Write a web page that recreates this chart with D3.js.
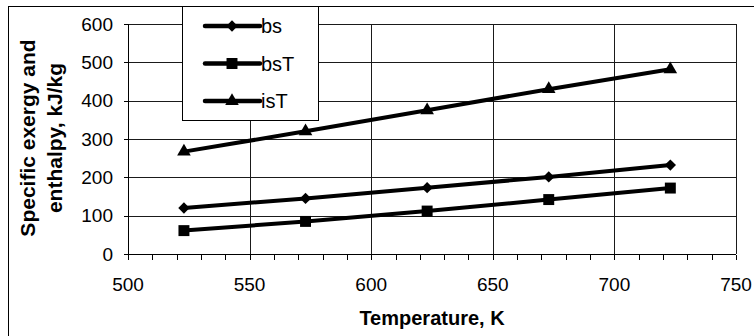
<!DOCTYPE html>
<html>
<head>
<meta charset="utf-8">
<script src="https://cdn.jsdelivr.net/npm/d3@7/dist/d3.min.js"></script>
<style>
html,body{margin:0;padding:0;background:#fff;}
svg{display:block;font-family:"Liberation Sans",Arial,sans-serif;}
</style>
</head>
<body>
<svg id="chart" width="754" height="336"></svg>
<script>
const temperatures = [523, 573, 623, 673, 723];
const bs  = [120, 145, 173, 201, 232];
const bsT = [61, 85, 112, 142, 172];
const isT = [267, 320, 375, 430, 482];
const seriesNames = ["bs", "bsT", "isT"];
const xTicks = [500, 550, 600, 650, 700, 750];
const yTicks = [0, 100, 200, 300, 400, 500, 600];
const xTitle = "Temperature, K";
const yTitleLines = ["Specific exergy and", "enthalpy, kJ/kg"];

const svg = d3.select("#chart");
const L = 128, R = 736, T = 24, B = 254;
const x = d3.scaleLinear().domain([500, 750]).range([L, R]);
const y = d3.scaleLinear().domain([0, 600]).range([B, T]);

// outer chart border (right/bottom cropped)
svg.append("rect").attr("x", 8.5).attr("y", 6.5).attr("width", 800).attr("height", 400)
  .attr("fill", "#fff").attr("stroke", "#000").attr("stroke-width", 1);

// gridlines
const g = svg.append("g").attr("stroke", "#1a1a1a").attr("stroke-width", 1).attr("shape-rendering", "crispEdges");
yTicks.filter(v => v > 0).forEach(v => {
  g.append("line").attr("x1", L).attr("x2", R).attr("y1", Math.round(y(v)) + 0.5).attr("y2", Math.round(y(v)) + 0.5);
});
xTicks.filter(v => v > 500).forEach(v => {
  g.append("line").attr("y1", T).attr("y2", B).attr("x1", Math.round(x(v)) + 0.5).attr("x2", Math.round(x(v)) + 0.5);
});

// axes
const xAxis = d3.axisBottom(x).tickValues(d3.range(500, 751, 10)).tickSize(5).tickFormat("");
const gx = svg.append("g").attr("transform", `translate(0,${B + 0.5})`).call(xAxis);
gx.selectAll("path,line").attr("stroke", "#000").attr("shape-rendering", "crispEdges");
gx.select(".domain").attr("d", `M${L},0H${R}`);
const yAxis = d3.axisLeft(y).tickValues(yTicks).tickSize(5).tickFormat("");
const gy = svg.append("g").attr("transform", `translate(${L + 0.5},0)`).call(yAxis);
gy.selectAll("path,line").attr("stroke", "#000").attr("shape-rendering", "crispEdges");
gy.select(".domain").attr("d", `M0,${T}V${B}`);

// tick labels
svg.append("g").selectAll("text").data(xTicks).join("text")
  .attr("x", d => x(d)).attr("y", 291).attr("text-anchor", "middle")
  .attr("font-size", 19).text(d => d);
svg.append("g").selectAll("text").data(yTicks).join("text")
  .attr("x", 113).attr("y", d => y(d) + 6.8).attr("text-anchor", "end")
  .attr("font-size", 19).text(d => d);

// titles
svg.append("text").attr("x", (L + R) / 2).attr("y", 325).attr("text-anchor", "middle")
  .attr("font-size", 20).attr("font-weight", "bold").text(xTitle);
const yt = svg.append("text").attr("transform", `translate(0,138) rotate(-90)`)
  .attr("text-anchor", "middle").attr("font-size", 21).attr("font-weight", "bold");
yt.append("tspan").attr("x", 0).attr("y", 35).text(yTitleLines[0]);
yt.append("tspan").attr("x", 0).attr("y", 62).text(yTitleLines[1]);

// series
const data = [bs, bsT, isT];
const shapes = [d3.symbolSquare, d3.symbolSquare, d3.symbolTriangle];
const sizes = [64, 120, 80];
const rot = [" rotate(45)", "", ""];
const line = d3.line().x((d, i) => x(temperatures[i])).y(d => y(d));
data.forEach((vals, k) => {
  svg.append("path").datum(vals).attr("d", line).attr("fill", "none")
    .attr("stroke", "#000").attr("stroke-width", 4);
  svg.append("g").selectAll("path").data(vals).join("path")
    .attr("transform", (d, i) => `translate(${x(temperatures[i])},${y(d)})${rot[k]}`)
    .attr("d", d3.symbol().type(shapes[k]).size(sizes[k])).attr("fill", "#000");
});

// legend
const lg = svg.append("g");
lg.append("rect").attr("x", 182.5).attr("y", 6.5).attr("width", 136).attr("height", 114)
  .attr("fill", "#fff").attr("stroke", "#000").attr("stroke-width", 1);
const rowsY = [26, 63.5, 101];
seriesNames.forEach((name, k) => {
  const yy = rowsY[k];
  lg.append("line").attr("x1", 205).attr("x2", 260).attr("y1", yy).attr("y2", yy)
    .attr("stroke", "#000").attr("stroke-width", 4.5).attr("stroke-linecap", "round");
  lg.append("path").attr("transform", `translate(232,${yy})${rot[k]}`)
    .attr("d", d3.symbol().type(shapes[k]).size(sizes[k])).attr("fill", "#000");
  lg.append("text").attr("x", 261).attr("y", yy + 7).attr("font-size", 20).text(name);
});
</script>
</body>
</html>
